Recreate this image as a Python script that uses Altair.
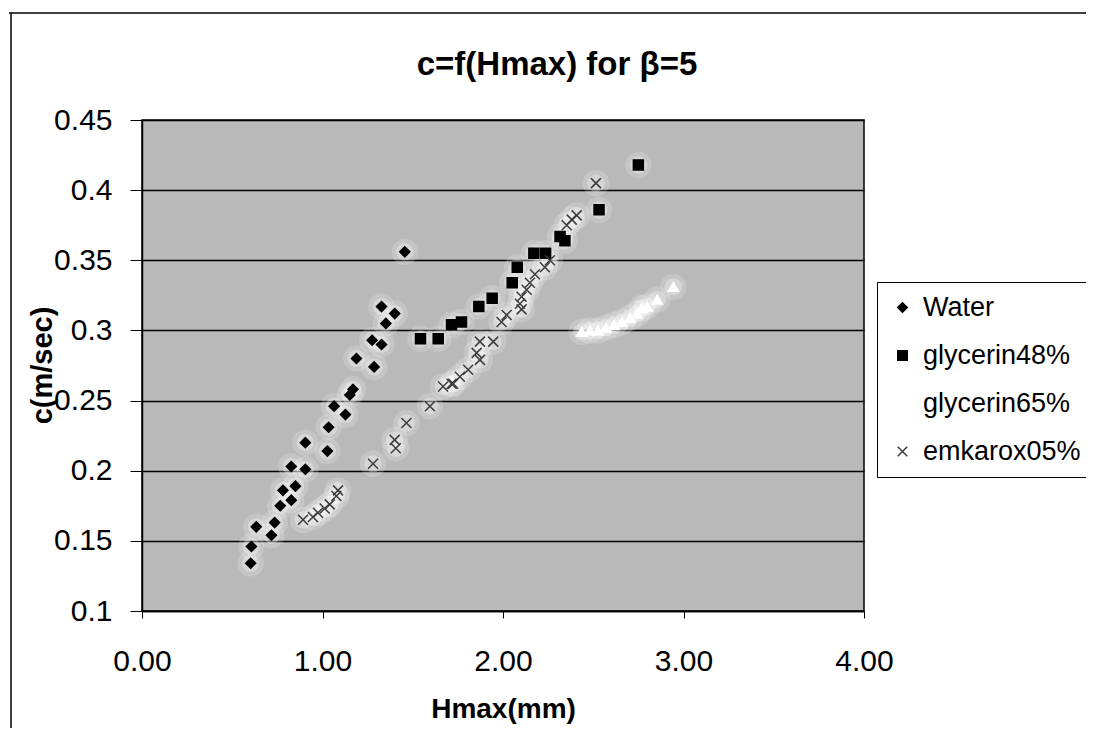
import altair as alt
import pandas as pd

# ---- data ----
series_names = ["Water", "glycerin48%", "glycerin65%", "emkarox05%"]

water_x = [1.456, 1.327, 1.400, 1.351, 1.275, 1.327, 1.286, 1.188, 1.169, 1.151,
           1.064, 1.127, 1.034, 0.905, 1.027, 0.827, 0.905, 0.850, 0.781, 0.827,
           0.766, 0.735, 0.633, 0.717, 0.606, 0.602]
water_y = [0.356, 0.317, 0.312, 0.305, 0.293, 0.290, 0.274, 0.280, 0.258, 0.254,
           0.246, 0.240, 0.231, 0.220, 0.214, 0.203, 0.201, 0.189, 0.186, 0.179,
           0.175, 0.163, 0.160, 0.154, 0.146, 0.134]

gly48_x = [2.750, 2.532, 2.316, 2.343, 2.171, 2.236, 2.079, 2.051, 1.940, 1.866,
           1.770, 1.715, 1.641, 1.543]
gly48_y = [0.418, 0.386, 0.367, 0.364, 0.355, 0.355, 0.345, 0.334, 0.323, 0.317,
           0.306, 0.304, 0.294, 0.294]

gly65_x = [2.436, 2.482, 2.526, 2.571, 2.615, 2.659, 2.704, 2.743, 2.770, 2.799,
           2.855, 2.944]
gly65_y = [0.299, 0.300, 0.300, 0.302, 0.304, 0.306, 0.309, 0.312, 0.316, 0.317,
           0.322, 0.331]

emk_x = [0.892, 0.947, 0.975, 1.012, 1.040, 1.077, 1.086, 1.280, 1.400, 1.406,
         1.465, 1.595, 1.668, 1.724, 2.515, 2.408, 2.381, 2.353, 2.260, 2.232,
         2.177, 2.149, 2.131, 2.103, 2.094, 2.103, 2.020, 1.992, 1.946, 1.872,
         1.854, 1.872, 1.807, 1.761, 1.715]
emk_y = [0.165, 0.167, 0.170, 0.173, 0.176, 0.182, 0.186, 0.205, 0.222, 0.216,
         0.234, 0.246, 0.260, 0.262, 0.405, 0.382, 0.379, 0.375, 0.350, 0.345,
         0.340, 0.334, 0.329, 0.324, 0.319, 0.315, 0.311, 0.306, 0.292, 0.292,
         0.284, 0.279, 0.272, 0.267, 0.262]

x_ticks = [0, 1, 2, 3, 4]
y_ticks = [0.1, 0.15, 0.2, 0.25, 0.3, 0.35, 0.4, 0.45]
chart_title = "c=f(Hmax) for β=5"

rows = []
for name, xs, ys in [("Water", water_x, water_y), ("glycerin48%", gly48_x, gly48_y),
                     ("glycerin65%", gly65_x, gly65_y), ("emkarox05%", emk_x, emk_y)]:
    for a, b in zip(xs, ys):
        rows.append({"series": name, "H": a, "c": b})
df = pd.DataFrame(rows)

FONT = "Liberation Sans"

x_enc = alt.X("H:Q", scale=alt.Scale(domain=[0, 4], nice=False, zero=False),
              axis=alt.Axis(values=x_ticks, format=".2f", labelFontSize=30, labelFont=FONT,
                            labelColor="black", labelFlush=False, labelOverlap=False,
                            tickSize=7, tickColor="black", labelPadding=28,
                            domainColor="black", domainWidth=1.5, grid=False,
                            title="Hmax(mm)", titleFont=FONT, titleFontSize=28,
                            titleFontWeight="bold", titleColor="black",
                            titleY=106, titleBaseline="alphabetic"))
y_enc = alt.Y("c:Q", scale=alt.Scale(domain=[0.1, 0.45], nice=False, zero=False),
              axis=alt.Axis(values=y_ticks, format=".2~f", labelFontSize=30, labelFont=FONT,
                            labelColor="black", labelFlush=False, labelOverlap=False,
                            tickSize=12, tickColor="black", labelPadding=18,
                            domainColor="black", domainWidth=1.5,
                            grid=True, gridColor="black", gridWidth=1.5,
                            title="c(m/sec)", titleFont=FONT, titleFontSize=29,
                            titleFontWeight="bold", titleColor="black",
                            titleAngle=270, titleX=-100, titleY=245,
                            titleAlign="center", titleBaseline="middle"))

base = alt.Chart(df)

halo_outer = base.mark_point(shape="circle", filled=True, color="white", opacity=0.18,
                             size=700, strokeWidth=0).encode(x=x_enc, y=y_enc)
halo_inner = base.mark_point(shape="circle", filled=True, color="white", opacity=0.3,
                             size=300, strokeWidth=0).encode(x=x_enc, y=y_enc)

pts = base.mark_point(strokeWidth=1.5, opacity=1, size=100).encode(
    x=x_enc, y=y_enc,
    shape=alt.Shape("series:N", scale=alt.Scale(
        domain=series_names,
        range=["diamond", "square", "triangle-up", "M-1,-1L1,1M-1,1L1,-1"]),
        legend=alt.Legend(title=None, orient="none", legendX=735, legendY=162)),
    fill=alt.Fill("series:N", scale=alt.Scale(
        domain=series_names, range=["black", "black", "white", "transparent"])),
    stroke=alt.Stroke("series:N", scale=alt.Scale(
        domain=series_names, range=["black", "black", "white", "#3c3c3c"])),
)

deco = alt.Chart(pd.DataFrame({"k": [0]}))
top_line = deco.mark_rule(color="black", strokeWidth=1.5).encode(
    x=alt.value(-133), x2=alt.value(950), y=alt.value(-107))
left_line = deco.mark_rule(color="black", strokeWidth=1.5).encode(
    x=alt.value(-131), y=alt.value(-107), y2=alt.value(620))
title_text = deco.mark_text(text=chart_title, font=FONT, fontSize=33, fontWeight="bold",
                            color="black", align="center", baseline="alphabetic").encode(
    x=alt.value(415), y=alt.value(-45))

chart = alt.layer(top_line, left_line, title_text, halo_outer, halo_inner, pts).properties(
    width=722, height=491,
    autosize=alt.AutoSizeParams(type="none"),
    padding={"left": 134, "top": 112, "right": 222, "bottom": 117},
    background="white",
    view=alt.ViewBackground(fill="#b9b9b9", stroke="black", strokeWidth=1.5),
).configure_view(
    fill="#b9b9b9", stroke="black", strokeWidth=1.5
).configure_legend(
    fillColor="white", strokeColor="black", padding=12,
    labelFont=FONT, labelFontSize=27, labelColor="black", labelLimit=400,
    symbolSize=90, symbolStrokeWidth=1.5, rowPadding=20, labelOffset=7,
)

chart.save("out.html", embed_options={"renderer": "svg", "actions": False})
